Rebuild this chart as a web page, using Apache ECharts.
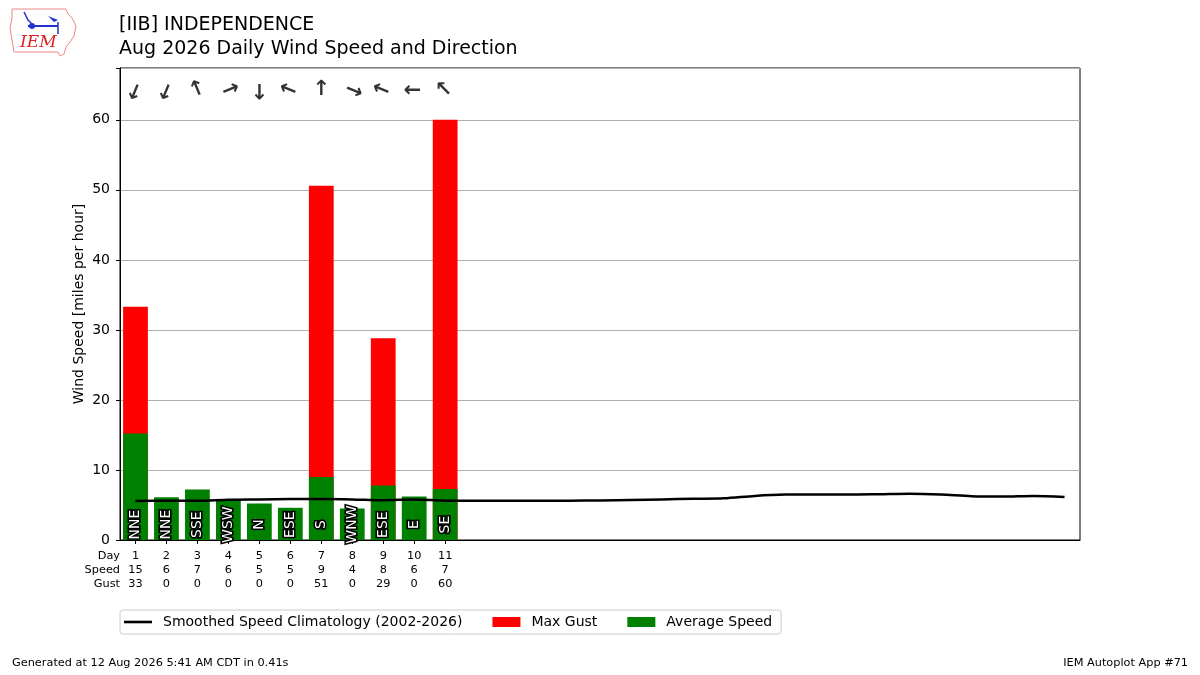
<!DOCTYPE html>
<html>
<head>
<meta charset="utf-8">
<script src="https://cdn.jsdelivr.net/npm/echarts@6/dist/echarts.min.js"></script>
<style>
  html, body { margin: 0; padding: 0; background: #fff; }
  #chart { width: 1200px; height: 675px; }
</style>
</head>
<body>
<div id="chart"></div>
<script>
// days of the month
var days = ["1","2","3","4","5","6","7","8","9","10","11","12","13","14","15","16",
  "17","18","19","20","21","22","23","24","25","26","27","28","29","30","31"];
// observed so far (days 1-11)
var avgSpeed = [15.2, 6.1, 7.2, 5.7, 5.2, 4.6, 9.0, 4.5, 7.8, 6.2, 7.3];
var maxGust = [33.3, 0, 0, 0, 0, 0, 50.6, 0, 28.8, 0, 60.0];
var speedLabels = [15, 6, 7, 6, 5, 5, 9, 4, 8, 6, 7];
var gustLabels = [33, 0, 0, 0, 0, 0, 51, 0, 29, 0, 60];
var dirText = ["NNE", "NNE", "SSE", "WSW", "N", "ESE", "S", "WNW", "ESE", "E", "SE"];
var dirDeg = [22.5, 22.5, 157.5, 247.5, 0, 112.5, 180, 292.5, 112.5, 90, 135];
// smoothed climatology
var climo = [5.57, 5.6, 5.6, 5.75, 5.8, 5.85, 5.86, 5.8, 5.67, 5.8, 5.62, 5.6, 5.62, 5.62,
  5.62, 5.65, 5.72, 5.8, 5.88, 5.95, 6.3, 6.48, 6.5, 6.5, 6.55, 6.62, 6.5, 6.25, 6.2, 6.3, 6.15];

var yTicks = [0, 10, 20, 30, 40, 50, 60];
var rowNames = ["Day", "Speed", "Gust"];

var FONT = "DejaVu Sans";
var nObs = avgSpeed.length;
// thin line icon for the legend (corner moves keep the 28x10 box)
var LINE_ICON = "path://M0,0 M28,10 M0,3.7 L28,3.7 L28,6.3 L0,6.3 Z";

var chartDom = document.getElementById("chart");
var myChart = echarts.init(chartDom, null, { renderer: "canvas" });

var arrowData = [];
var dirData = [];
for (var i = 0; i < nObs; i++) {
  // rotate each arrow so it points the way the wind blows toward
  arrowData.push({ value: [days[i], 64.3], label: { rotate: -(dirDeg[i] + 180) } });
  dirData.push([i, 2.2]);
}

var graphics = [
  // IEM logo approximation
  {
    type: "polyline",
    shape: {
      points: [[12, 9], [66, 9], [68, 14], [72, 18], [76, 26], [74, 36], [70, 42], [66, 47], [64, 54], [60, 56], [58, 52], [14, 52], [12, 40], [10, 28], [12, 18], [12, 9]],
    },
    style: { stroke: "#e88", fill: "none", lineWidth: 1 },
  },
  {
    type: "polyline",
    shape: { points: [[28, 26], [58, 26]] },
    style: { stroke: "#2233cc", lineWidth: 2 },
  },
  { type: "circle", shape: { cx: 32, cy: 26, r: 3 }, style: { fill: "#2233cc" } },
  {
    type: "polyline",
    shape: { points: [[24, 12], [28, 20], [32, 24]] },
    style: { stroke: "#2233cc", lineWidth: 1.5, fill: "none" },
  },
  {
    type: "polygon",
    shape: { points: [[48, 16], [58, 20], [54, 22]] },
    style: { fill: "#2233cc" },
  },
  {
    type: "polyline",
    shape: { points: [[58, 22], [58, 34]] },
    style: { stroke: "#2233cc", lineWidth: 1.5 },
  },
  {
    type: "text",
    left: 20,
    top: 34,
    style: { text: "IEM", fill: "#dd2222", font: "italic 17px 'DejaVu Serif', 'Liberation Serif', serif" },
  },
  {
    type: "text",
    left: 12,
    top: 658,
    style: { text: "Generated at 12 Aug 2026 5:41 AM CDT in 0.41s", fill: "#000", font: "11.3px 'DejaVu Sans'" },
  },
  {
    type: "text",
    right: 12,
    top: 658,
    style: { text: "IEM Autoplot App #71", fill: "#000", font: "11.3px 'DejaVu Sans'" },
  },
];
// row labels of the table under the axis
for (var r = 0; r < rowNames.length; r++) {
  graphics.push({
    type: "text",
    right: 1080,
    top: 550.5 + r * 14,
    style: { text: rowNames[r], fill: "#000", font: "11.3px 'DejaVu Sans'" },
  });
}

function renderDirText(params, api) {
  var pt = api.coord([api.value(0), api.value(1)]);
  return {
    type: "text",
    x: pt[0],
    y: pt[1],
    rotation: Math.PI / 2,
    z2: 10,
    style: {
      text: dirText[params.dataIndex],
      font: "14px 'DejaVu Sans'",
      fill: "#fff",
      stroke: "#000",
      lineWidth: 3.2,
      strokeFirst: true,
      align: "center",
      verticalAlign: "middle",
    },
  };
}

var option = {
  backgroundColor: "#fff",
  animation: false,
  textStyle: { fontFamily: FONT },
  title: {
    text: "[IIB] INDEPENDENCE\nAug 2026 Daily Wind Speed and Direction",
    left: 114,
    top: 8,
    textStyle: { fontFamily: FONT, fontSize: 19, fontWeight: "normal", color: "#000", lineHeight: 24 },
  },
  legend: {
    bottom: 41,
    left: 120,
    borderColor: "#ccc",
    borderWidth: 1,
    borderRadius: 3,
    padding: [5, 9, 5, 4],
    itemWidth: 28,
    itemHeight: 10,
    itemGap: 30,
    textStyle: { fontFamily: FONT, fontSize: 14, color: "#000", padding: [0, 0, 0, 6] },
    data: [
      { name: "Smoothed Speed Climatology (2002-2026)", icon: LINE_ICON },
      { name: "Max Gust", icon: "rect" },
      { name: "Average Speed", icon: "rect" },
    ],
  },
  grid: {
    left: 120,
    right: 120,
    top: 68,
    bottom: 135,
    show: true,
    borderColor: "#000",
    borderWidth: 1,
    backgroundColor: "transparent",
  },
  xAxis: {
    type: "category",
    data: days,
    boundaryGap: true,
    axisLine: { show: true, lineStyle: { color: "#000", width: 1 } },
    axisTick: {
      show: true,
      alignWithLabel: true,
      length: 4,
      lineStyle: { color: "#000" },
      interval: function (idx) { return idx < nObs; },
    },
    axisLabel: {
      interval: function (idx) { return idx < nObs; },
      margin: 9,
      fontFamily: FONT,
      fontSize: 11.3,
      lineHeight: 14,
      color: "#000",
      formatter: function (v, idx) {
        if (idx >= nObs) return "";
        return v + "\n" + speedLabels[idx] + "\n" + gustLabels[idx];
      },
    },
    splitLine: { show: false },
  },
  yAxis: {
    type: "value",
    min: 0,
    max: 67.4,
    interval: 10,
    name: "Wind Speed [miles per hour]",
    nameLocation: "middle",
    nameGap: 34,
    nameMoveOverlap: false,
    nameTextStyle: { fontFamily: FONT, fontSize: 14, color: "#000" },
    axisLine: { show: true, lineStyle: { color: "#000" } },
    axisTick: { show: true, length: 4, lineStyle: { color: "#000" } },
    axisLabel: {
      fontFamily: FONT,
      fontSize: 14,
      color: "#000",
      margin: 10,
      formatter: function (v) { return yTicks.indexOf(v) >= 0 ? String(v) : ""; },
    },
    splitLine: { show: true, lineStyle: { color: "#b0b0b0", width: 1 } },
  },
  series: [
    {
      name: "Max Gust",
      type: "bar",
      data: maxGust,
      barWidth: "80%",
      barGap: "-100%",
      itemStyle: { color: "#ff0000" },
      z: 2,
    },
    {
      name: "Average Speed",
      type: "bar",
      data: avgSpeed,
      barWidth: "80%",
      barGap: "-100%",
      itemStyle: { color: "#008000" },
      z: 3,
    },
    {
      name: "Smoothed Speed Climatology (2002-2026)",
      type: "line",
      data: climo,
      smooth: 0.3,
      showSymbol: false,
      symbol: "none",
      lineStyle: { color: "#000", width: 2.5 },
      itemStyle: { color: "#000" },
      z: 4,
    },
    {
      name: "dirtext",
      type: "custom",
      data: dirData,
      renderItem: renderDirText,
      clip: false,
      z: 6,
    },
    {
      name: "arrows",
      type: "scatter",
      data: arrowData,
      symbolSize: 0,
      z: 6,
      label: {
        show: true,
        position: "inside",
        formatter: "\u2191",
        fontFamily: FONT,
        fontSize: 21,
        fontWeight: "bold",
        color: "#000",
      },
    },
  ],
  graphic: graphics,
};

option && myChart.setOption(option);
window.addEventListener("resize", function () {
  myChart.resize();
});
</script>
</body>
</html>
